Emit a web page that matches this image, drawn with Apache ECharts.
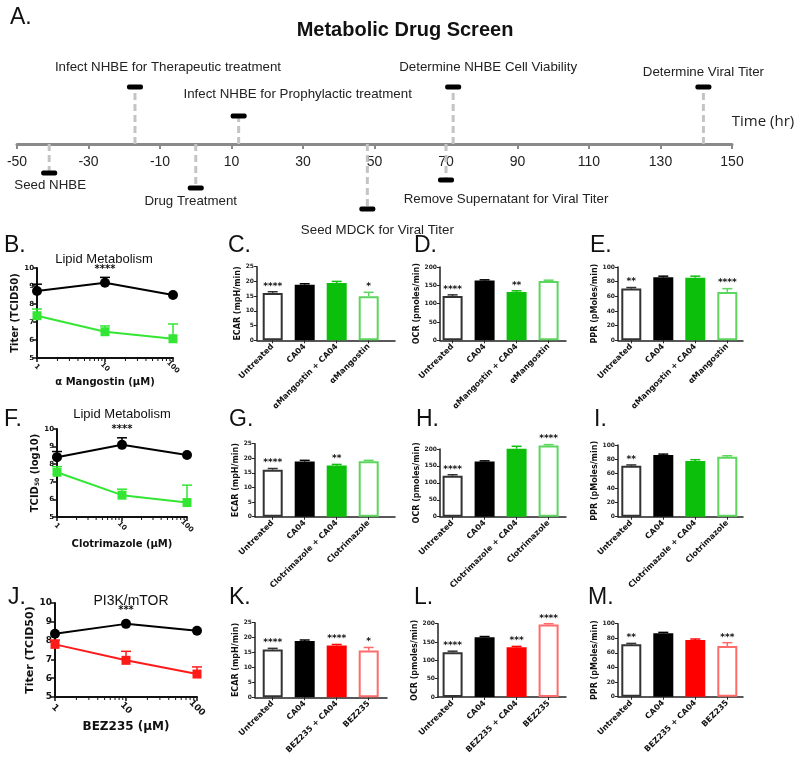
<!DOCTYPE html>
<html><head><meta charset="utf-8">
<script src="https://cdn.jsdelivr.net/npm/echarts@6/dist/echarts.min.js"></script>
<style>html,body{margin:0;padding:0;background:#fff}#c{width:800px;height:762px}</style>
</head><body><div id="c"></div>
<script>
// ---------------- DATA ----------------
// Panel A: timeline
const timeMin = -50, timeMax = 150, timeStep = 20;
const eventNames = ['Seed NHBE','Infect NHBE for Therapeutic treatment','Drug Treatment','Infect NHBE for Prophylactic treatment','Seed MDCK for Viral Titer','Remove Supernatant for Viral Titer','Determine NHBE Cell Viability','Determine Viral Titer'];
const eventTimes = [-41, -17, 0, 12, 48, 70, 72, 142];

// Line panels (B, F, J): dose in µM, titer (log10 TCID50), upper error bar end
const doses = [1, 10, 100];
const mangCA04 = [8.72, 9.18, 8.5];
const mangCA04Err = [9.1, 9.48, 8.5];
const mangDrug = [7.35, 6.46, 6.07];
const mangDrugErr = [7.72, 6.78, 6.89];
const mangStars = ['', '****', ''];
const clotCA04 = [8.4, 9.1, 8.52];
const clotCA04Err = [8.72, 9.5, 8.52];
const clotDrug = [7.54, 6.24, 5.82];
const clotDrugErr = [7.86, 6.58, 6.81];
const clotStars = ['', '****', ''];
const bezCA04 = [8.36, 8.89, 8.52];
const bezCA04Err = [8.36, 8.89, 8.52];
const bezDrug = [7.8, 6.95, 6.22];
const bezDrugErr = [8.03, 7.43, 6.6];
const bezStars = ['', '***', ''];

// Bar panels
const catsMang = ['Untreated', 'CA04', 'αMangostin + CA04', 'αMangostin'];
const catsClot = ['Untreated', 'CA04', 'Clotrimazole + CA04', 'Clotrimazole'];
const catsBez = ['Untreated', 'CA04', 'BEZ235 + CA04', 'BEZ235'];

const ecarMang = [16.1, 18.9, 19.5, 15.0];
const ecarMangErr = [16.5, 19.2, 20.0, 16.3];
const ecarMangStars = ['****', '', '', '*'];
const ocrMang = [121, 163, 132, 162];
const ocrMangErr = [124, 165, 135, 164];
const ocrMangStars = ['****', '', '**', ''];
const pprMang = [70.5, 86, 85.5, 66];
const pprMangErr = [72, 87.5, 87.5, 70.5];
const pprMangStars = ['**', '', '', '****'];

const ecarClot = [16.1, 18.9, 17.5, 19.0];
const ecarClotErr = [16.5, 19.3, 17.9, 19.3];
const ecarClotStars = ['****', '', '**', ''];
const ocrClot = [121, 163, 201, 210];
const ocrClotErr = [124, 165, 208, 213];
const ocrClotStars = ['****', '', '', '****'];
const pprClot = [70.9, 85.9, 77.7, 83.7];
const pprClotErr = [72.2, 87.3, 79.5, 85];
const pprClotStars = ['**', '', '', ''];

const ecarBez = [16.0, 18.9, 17.4, 15.7];
const ecarBezErr = [16.4, 19.2, 17.7, 16.7];
const ecarBezStars = ['****', '', '****', '*'];
const ocrBez = [121.8, 162.7, 135.5, 198];
const ocrBezErr = [125, 165, 138, 200];
const ocrBezStars = ['****', '', '***', '****'];
const pprBez = [71.7, 86.8, 77.6, 69.4];
const pprBezErr = [73, 88.1, 79, 74];
const pprBezStars = ['**', '', '', '***'];

// ---------------- LAYOUT / STYLE ----------------
const eventLevel = [-29, 57, -44, 28, -65, -36, 57, 57];         // px offset of marker from axis
const eventLabelOff = [[1,12],[33,-20],[-5,13],[59,-22],[10,21],[60,19],[35,-20],[0,-15]];
const GREEN_LINE = '#33e633', GREEN_FILL = '#0bbf0b', GREEN_OPEN = '#5cd65c';
const RED_LINE = '#ff1a1a', RED_FILL = '#ff0000', RED_OPEN = '#ff6b6b';
const PF = 'DejaVu Sans', AF = 'Liberation Sans';

const grids = [], xAxes = [], yAxes = [], series = [], graphics = [];

function txt(text, x, y, o) {
  graphics.push({type:'text', x:x, y:y, silent:true, z:10,
    style:Object.assign({text:text, fill:'#111', fontSize:12, fontFamily:AF, align:'left', verticalAlign:'middle'}, o||{})});
}

// ---------- Panel A ----------
(function(){
  const g = grids.length;
  grids.push({left:17, top:64, width:715, height:80});
  xAxes.push({gridIndex:g, type:'value', min:timeMin, max:timeMax, interval:timeStep,
    axisLine:{onZero:false, lineStyle:{color:'#8a8a8a', width:3}},
    axisTick:{length:5, lineStyle:{color:'#8a8a8a', width:2}},
    axisLabel:{fontSize:14, color:'#222', margin:11, fontFamily:AF}, splitLine:{show:false}});
  xAxes.push({gridIndex:g, type:'value', min:timeMin, max:timeMax, interval:timeStep,
    axisLine:{show:false}, axisTick:{inside:true, length:5, lineStyle:{color:'#8a8a8a', width:2}},
    axisLabel:{show:false}, splitLine:{show:false}});
  yAxes.push({gridIndex:g, type:'value', min:0, max:80, show:false});
  series.push({type:'custom', xAxisIndex:xAxes.length-2, yAxisIndex:g, z:1,
    data:eventTimes.map((t,i)=>[t, eventLevel[i]]),
    renderItem:function(params, api){
      const i = params.dataIndex;
      const a = api.coord([api.value(0), 0]);
      const b = api.coord([api.value(0), api.value(1)]);
      const off = eventLabelOff[i];
      return {type:'group', children:[
        {type:'line', shape:{x1:a[0], y1:a[1], x2:b[0], y2:b[1]}, style:{stroke:'#c4c4c4', lineWidth:3, lineDash:[7,4]}},
        {type:'rect', shape:{x:b[0]-8, y:b[1]-2.5, width:16, height:5, r:2}, style:{fill:'#000'}},
        {type:'text', style:{text:eventNames[i], x:b[0]+off[0], y:b[1]+off[1], align:'center', verticalAlign:'middle', fontSize:13.3, fill:'#222', fontFamily:AF}}
      ]};
    }});
})();
txt('A.', 10, 18, {fontSize:23});
txt('Metabolic Drug Screen', 405, 30, {fontSize:20, fontWeight:'bold', align:'center'});
txt('Time (hr)', 763, 122, {fontSize:15, align:'center', fontFamily:'Open Sans', fill:'#222'});

// ---------- Line panels ----------
const logMinor = [2,3,4,5,6,7,8,9,20,30,40,50,60,70,80,90];
function addLinePanel(L, ca, caErr, dr, drErr, stars, drugColor, xName, yName, S) {
  const g = grids.length;
  grids.push({left:L.x0, top:L.y0, width:L.x1-L.x0, height:L.y1-L.y0});
  xAxes.push({gridIndex:g, type:'log', logBase:10, min:1, max:100,
    axisLine:{onZero:false, lineStyle:{color:'#111', width:2}},
    axisTick:{length:4, lineStyle:{color:'#111', width:1.5}},
    axisLabel:{rotate:-45, align:'center', verticalAlign:'middle', margin:S.xm, fontSize:S.tl, fontWeight:'bold', fontFamily:PF, color:'#111'},
    splitLine:{show:false}, name:xName, nameLocation:'middle', nameGap:S.xg,
    nameTextStyle:{fontSize:S.xn, fontWeight:'bold', fontFamily:PF, color:'#111'}});
  yAxes.push({gridIndex:g, type:'value', min:5, max:10, interval:1,
    axisLine:{show:true, onZero:false, lineStyle:{color:'#111', width:2}},
    axisTick:{show:true, length:4, lineStyle:{color:'#111', width:1.5}},
    axisLabel:{fontSize:S.tl, fontWeight:'bold', fontFamily:PF, color:'#111', margin:3},
    splitLine:{show:false}, name:yName, nameLocation:'middle', nameGap:S.yg,
    nameTextStyle:Object.assign({fontSize:S.yn, fontWeight:'bold', fontFamily:PF, color:'#111'}, S.rich?{rich:S.rich}:{})});
  const xi = xAxes.length-1, yi = yAxes.length-1;
  // minor ticks
  series.push({type:'custom', xAxisIndex:xi, yAxisIndex:yi, silent:true,
    data:logMinor.map(v=>[v,5]),
    renderItem:function(p, api){ const c = api.coord([api.value(0), 5]);
      return {type:'line', shape:{x1:c[0], y1:c[1], x2:c[0], y2:c[1]+3}, style:{stroke:'#111', lineWidth:1}}; }});
  function errSeries(vals, errs, color, st) {
    series.push({type:'custom', xAxisIndex:xi, yAxisIndex:yi, z:1, silent:true,
      data:doses.map((d,i)=>[d, vals[i], errs[i]]),
      renderItem:function(p, api){
        const b = api.coord([api.value(0), api.value(1)]);
        const t = api.coord([api.value(0), api.value(2)]);
        const ch = [];
        if (api.value(2) > api.value(1)) {
          ch.push({type:'line', shape:{x1:b[0], y1:b[1], x2:t[0], y2:t[1]}, style:{stroke:color, lineWidth:1.5}});
          ch.push({type:'line', shape:{x1:t[0]-5, y1:t[1], x2:t[0]+5, y2:t[1]}, style:{stroke:color, lineWidth:1.5}});
        }
        if (st && st[p.dataIndex]) ch.push({type:'text', style:{text:st[p.dataIndex], x:t[0], y:Math.min(t[1], b[1]-5)-3, align:'center', verticalAlign:'bottom', fontSize:10, fontWeight:'bold', fontFamily:PF, fill:'#111'}});
        return {type:'group', children:ch};
      }});
  }
  errSeries(ca, caErr, '#000', stars);
  errSeries(dr, drErr, drugColor, null);
  series.push({type:'line', xAxisIndex:xi, yAxisIndex:yi, z:3, data:doses.map((d,i)=>[d, ca[i]]),
    symbol:'circle', symbolSize:10, lineStyle:{color:'#000', width:2}, itemStyle:{color:'#000'}});
  series.push({type:'line', xAxisIndex:xi, yAxisIndex:yi, z:3, data:doses.map((d,i)=>[d, dr[i]]),
    symbol:'rect', symbolSize:9, lineStyle:{color:drugColor, width:2}, itemStyle:{color:drugColor}});
}

addLinePanel({x0:37, x1:173, y0:268, y1:358}, mangCA04, mangCA04Err, mangDrug, mangDrugErr, mangStars, GREEN_LINE,
  'α Mangostin (μM)', 'Titer (TCID50)', {tl:7, xm:9, xg:18, xn:10, yg:14, yn:10});
addLinePanel({x0:57, x1:187, y0:429, y1:517}, clotCA04, clotCA04Err, clotDrug, clotDrugErr, clotStars, GREEN_LINE,
  'Clotrimazole (μM)', 'TCID{s|50} (log10)', {tl:7, xm:9, xg:22, xn:10, yg:14, yn:10, rich:{s:{fontSize:6, fontWeight:'bold', fontFamily:PF, padding:[4,0,0,0]}}});
addLinePanel({x0:55, x1:197, y0:603, y1:697}, bezCA04, bezCA04Err, bezDrug, bezDrugErr, bezStars, RED_LINE,
  'BEZ235 (μM)', 'Titer (TCID50)', {tl:9, xm:11, xg:20, xn:12, yg:11, yn:11});

// ---------- Bar panels ----------
function addBarPanel(L, cats, vals, errs, stars, fills, borders, yMax, yStep, yName) {
  const g = grids.length;
  grids.push({left:L.x0, top:L.y0, width:L.x1-L.x0, height:L.y1-L.y0});
  const xmin = -(L.c0-L.x0)/L.sp, xmax = xmin + (L.x1-L.x0)/L.sp;
  const idx = cats.map((c,i)=>i);
  xAxes.push({gridIndex:g, type:'value', min:xmin, max:xmax, splitLine:{show:false},
    axisLine:{onZero:false, lineStyle:{color:'#222', width:1.5}},
    axisTick:{customValues:idx, length:3, lineStyle:{color:'#222', width:1}},
    axisLabel:{customValues:idx, formatter:function(v){return cats[Math.round(v)];}, rotate:45, fontSize:8, fontWeight:'bold', fontFamily:PF, color:'#111', margin:5}});
  yAxes.push({gridIndex:g, type:'value', min:0, max:yMax, interval:yStep,
    name:yName, nameLocation:'middle', nameGap:L.ng,
    nameTextStyle:{fontSize:8, fontWeight:'bold', fontFamily:PF, color:'#111'},
    axisLine:{show:true, onZero:false, lineStyle:{color:'#222', width:1.5}},
    axisTick:{show:true, length:3, lineStyle:{color:'#222', width:1}},
    axisLabel:{fontSize:6, fontWeight:'bold', fontFamily:PF, color:'#222', margin:3}, splitLine:{show:false}});
  const xi = xAxes.length-1, yi = yAxes.length-1;
  series.push({type:'bar', xAxisIndex:xi, yAxisIndex:yi, barWidth:20, clip:false,
    data:vals.map((v,i)=>({value:[i, v], itemStyle:{color:fills[i], borderColor:borders[i], borderWidth:2}}))});
  series.push({type:'custom', xAxisIndex:xi, yAxisIndex:yi, z:3, silent:true,
    data:vals.map((v,i)=>[i, v, errs[i]]),
    renderItem:function(p, api){
      const i = p.dataIndex;
      const b = api.coord([api.value(0), api.value(1)]);
      const t = api.coord([api.value(0), api.value(2)]);
      const col = borders[i];
      const ch = [];
      if (api.value(2) > api.value(1)) {
        ch.push({type:'line', shape:{x1:b[0], y1:b[1], x2:t[0], y2:t[1]}, style:{stroke:col, lineWidth:1.5}});
        ch.push({type:'line', shape:{x1:t[0]-5, y1:t[1], x2:t[0]+5, y2:t[1]}, style:{stroke:col, lineWidth:1.5}});
      }
      if (stars[i]) ch.push({type:'text', style:{text:stars[i], x:t[0], y:t[1]-1, align:'center', verticalAlign:'bottom', fontSize:9, fontWeight:'bold', fontFamily:PF, fill:'#111'}});
      return {type:'group', children:ch};
    }});
}
const fillG = ['#fff', '#000', GREEN_FILL, '#fff'], bordG = ['#333', '#000', GREEN_FILL, GREEN_OPEN];
const fillR = ['#fff', '#000', RED_FILL, '#fff'], bordR = ['#333', '#000', RED_FILL, RED_OPEN];

const colC = {x0:257, x1:395, c0:272.7, sp:32, ng:13};
const colD = {x0:440, x1:566, c0:452.6, sp:32, ng:17};
const colE = {x0:618, x1:743, c0:631.3, sp:32, ng:16};

addBarPanel(Object.assign({}, colC, {y0:266.7, y1:340.3}), catsMang, ecarMang, ecarMangErr, ecarMangStars, fillG, bordG, 25, 5, 'ECAR (mpH/min)');
addBarPanel(Object.assign({}, colD, {y0:267, y1:340.3}), catsMang, ocrMang, ocrMangErr, ocrMangStars, fillG, bordG, 200, 50, 'OCR (pmoles/min)');
addBarPanel(Object.assign({}, colE, {y0:267, y1:340.3}), catsMang, pprMang, pprMangErr, pprMangStars, fillG, bordG, 100, 20, 'PPR (pMoles/min)');

addBarPanel(Object.assign({}, colC, {x0:255, y0:443.7, y1:516.7}), catsClot, ecarClot, ecarClotErr, ecarClotStars, fillG, bordG, 25, 5, 'ECAR (mpH/min)');
addBarPanel(Object.assign({}, colD, {y0:449, y1:516.7}), catsClot, ocrClot, ocrClotErr, ocrClotStars, fillG, bordG, 200, 50, 'OCR (pmoles/min)');
addBarPanel(Object.assign({}, colE, {y0:445, y1:516.7}), catsClot, pprClot, pprClotErr, pprClotStars, fillG, bordG, 100, 20, 'PPR (pMoles/min)');

addBarPanel(Object.assign({}, colC, {x0:255, x1:387, y0:622.7, y1:697.3}), catsBez, ecarBez, ecarBezErr, ecarBezStars, fillR, bordR, 25, 5, 'ECAR (mpH/min)');
addBarPanel(Object.assign({}, colD, {x0:438, y0:623.7, y1:697}), catsBez, ocrBez, ocrBezErr, ocrBezStars, fillR, bordR, 200, 50, 'OCR (pmoles/min)');
addBarPanel(Object.assign({}, colE, {y0:623.7, y1:696.7}), catsBez, pprBez, pprBezErr, pprBezStars, fillR, bordR, 100, 20, 'PPR (pMoles/min)');

// ---------- Panel letters & titles ----------
const letterFont = {fontSize:23, fontFamily:AF, fill:'#111'};
txt('B.', 4, 246, letterFont); txt('C.', 228, 246, letterFont); txt('D.', 414, 246, letterFont); txt('E.', 590, 246, letterFont);
txt('F.', 4, 420, letterFont); txt('G.', 229, 420, letterFont); txt('H.', 416, 420, letterFont); txt('I.', 594, 420, letterFont);
txt('J.', 8, 598, letterFont); txt('K.', 229, 598, letterFont); txt('L.', 414, 598, letterFont); txt('M.', 588, 598, letterFont);
txt('Lipid Metabolism', 104, 259, {fontSize:13, align:'center'});
txt('Lipid Metabolism', 122, 414, {fontSize:13, align:'center'});
txt('PI3K/mTOR', 131, 601, {fontSize:14, align:'center'});

const chart = echarts.init(document.getElementById('c'));
chart.setOption({animation:false, backgroundColor:'#fff', textStyle:{fontFamily:AF},
  grid:grids, xAxis:xAxes, yAxis:yAxes, series:series, graphic:graphics});
</script></body></html>
